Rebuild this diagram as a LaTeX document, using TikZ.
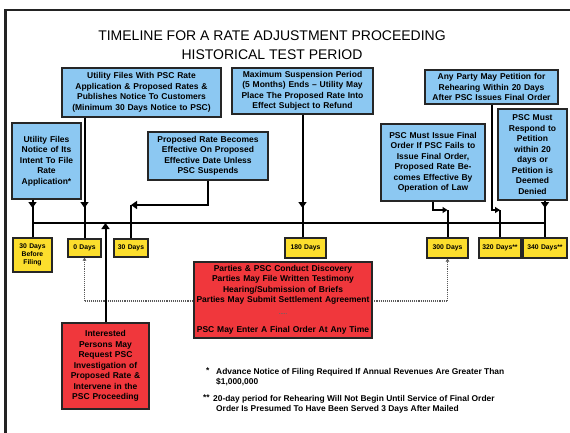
\documentclass[tikz,border=0pt]{standalone}
\usepackage{fontspec}
\setmainfont{Liberation Sans}
\usetikzlibrary{arrows.meta}
\definecolor{boxblue}{RGB}{140,200,242}
\definecolor{boxyellow}{RGB}{252,222,45}
\definecolor{boxred}{RGB}{240,55,60}
\definecolor{framegray}{RGB}{35,35,35}
\tikzset{
  boxbase/.style={draw=black!85, line width=1.3pt, inner xsep=2pt, inner ysep=1pt, align=center},
  bluebox/.style={boxbase, fill=boxblue, font=\fontsize{8.5}{10.5}\selectfont\bfseries},
  yelbox/.style={boxbase, fill=boxyellow, font=\fontsize{6.8}{8.2}\selectfont\bfseries},
  redbox/.style={boxbase, fill=boxred, font=\fontsize{8.5}{10.5}\selectfont\bfseries},
  wire/.style={line width=2pt, black},
  bighead/.style={-{Triangle[width=8pt,length=6pt]}},
  smallhead/.style={-{Triangle[width=6pt,length=5pt]}},
  dothead/.style={-{Triangle[width=3.5pt,length=3pt]}},
  dotline/.style={densely dotted, line width=1.1pt, black!65},
  notefont/.style={font=\fontsize{8.4}{10}\selectfont\bfseries, inner sep=0pt},
}
\begin{document}
\begin{tikzpicture}[x=1pt,y=-1pt]
\useasboundingbox (0,0) rectangle (570,432);
\clip (0,0) rectangle (570,432);
\fill[white] (0,0) rectangle (570,432);
% frame
\draw[line width=2.6pt, framegray] (5.5,440) -- (5.5,10) -- (580,10);

% title
\node (T1) at (272,36) {\fontsize{14}{16}\selectfont TIMELINE FOR A RATE ADJUSTMENT PROCEEDING};
\node (T2) at (272,55) {\fontsize{14}{16}\selectfont HISTORICAL TEST PERIOD};

% helper coordinates
\coordinate (lineY) at (0,223);
\coordinate (tipY) at (0,208);
\coordinate (elbowY) at (0,205);
\coordinate (jogY) at (0,210);
\coordinate (dotY) at (0,301);

% blue boxes
\node[bluebox, text width=155pt, minimum height=49pt] (B1) at (141.5,92.5)
  {Utility Files With PSC Rate\\Application \& Proposed Rates \&\\Publishes Notice To Customers\\(Minimum 30 Days Notice to PSC)};
\node[bluebox, text width=137pt, minimum height=46pt] (B2) at (302.5,91)
  {Maximum Suspension Period\\(5 Months) Ends -- Utility May\\Place The Proposed Rate Into\\Effect Subject to Refund};
\node[bluebox, text width=129pt, minimum height=34pt] (B3) at (491.5,87)
  {Any Party May Petition for\\Rehearing Within 20 Days\\After PSC Issues Final Order};
\node[bluebox, text width=65pt, minimum height=76pt] (B4) at (46.5,161)
  {Utility Files\\Notice of Its\\Intent To File\\Rate\\Application*};
\node[bluebox, text width=116pt, minimum height=48pt] (B5) at (208,156)
  {Proposed Rate Becomes\\Effective On Proposed\\Effective Date Unless\\PSC Suspends};
\node[bluebox, text width=100pt, minimum height=77pt] (B6) at (433,162.5)
  {PSC Must Issue Final\\Order If PSC Fails to\\Issue Final Order,\\Proposed Rate Be-\\comes Effective By\\Operation of Law};
\node[bluebox, text width=65pt, minimum height=91pt] (B7) at (532.5,154.5)
  {PSC Must\\Respond to\\Petition\\within 20\\days or\\Petition is\\Deemed\\Denied};

% yellow boxes
\node[yelbox, text width=35pt, minimum height=34pt] (Y1) at (32.5,255) {30 Days\\Before\\Filing};
\node[yelbox, text width=29pt, minimum height=18pt] (Y2) at (84.5,248) {0 Days};
\node[yelbox, text width=30pt, minimum height=18pt] (Y3) at (131,248) {30 Days};
\node[yelbox, text width=37pt, minimum height=20pt] (Y4) at (305.5,248) {180 Days};
\node[yelbox, text width=37pt, minimum height=20pt] (Y5) at (447.5,248) {300 Days};
\node[yelbox, text width=38pt, minimum height=20pt] (Y6) at (500,248) {320 Days**};
\node[yelbox, text width=40pt, minimum height=20pt] (Y7) at (545,248) {340 Days**};

% red box (left)
\node[redbox, text width=83pt, minimum height=86pt] (R1) at (105.5,366)
  {Interested\\Persons May\\Request PSC\\Investigation of\\Proposed Rate \&\\Intervene in the\\PSC Proceeding};

% dotted connectors
\draw[dotline] (Y2.south |- dotY) -- (Y5.south |- dotY);
\draw[dotline, dothead] (Y2.south |- dotY) -- (Y2.south);
\draw[dotline, dothead] (Y5.south |- dotY) -- (Y5.south);

% red box (centre)
\node[redbox, text width=174pt, minimum height=76pt] (R2) at (283,300)
  {Parties \& PSC Conduct Discovery\\Parties May File Written Testimony\\Hearing/Submission of Briefs\\Parties May Submit Settlement Agreement\\[1pt]
   {\fontsize{6}{7}\selectfont\color{black!60}.....}\\[8pt]
   PSC May Enter A Final Order At Any Time};

% timeline
\draw[wire] (Y1.north |- lineY) -- (Y7.north |- lineY);

% solid connectors
\draw[wire] (Y1.north |- B4.south) -- (Y1.north);
\draw[wire, bighead] (Y1.north |- B4.south) -- (Y1.north |- tipY);

\draw[wire] (Y2.north |- B1.south) -- (Y2.north);
\draw[wire, bighead] (Y2.north |- B1.south) -- (Y2.north |- tipY);

\draw[wire, bighead] (B5.south) |- (Y3.north |- elbowY);
\draw[wire] (Y3.north |- elbowY) -- (Y3.north);

\draw[wire, bighead] (R1.north) -- (R1.north |- lineY);

\draw[wire] (B2.south) -- (B2.south |- Y4.north);
\draw[wire, bighead] (B2.south) -- (B2.south |- tipY);

\draw[wire, smallhead] (B6.south) |- (Y5.north |- jogY);
\draw[wire] (Y5.north |- jogY) -- (Y5.north);

\draw[wire, smallhead] (B3.south) |- (Y6.north |- jogY);
\draw[wire] (Y6.north |- jogY) -- (Y6.north);

\draw[wire] (Y7.north |- B7.south) -- (Y7.north);
\draw[wire, bighead] (Y7.north |- B7.south) -- (Y7.north |- tipY);

% footnotes
\node[notefont, anchor=north west] (F1s) at (206,368) {*};
\node[notefont, anchor=north west, align=left] (F1) at (216,368)
  {Advance Notice of Filing Required If Annual Revenues Are Greater Than\\\$1,000,000};
\node[notefont, anchor=north west] (F2s) at (203,395) {**};
\node[notefont, anchor=north west, align=left] (F2) at (213,395)
  {20-day period for Rehearing Will Not Begin Until Service of Final Order\\\hspace*{3pt}Order Is Presumed To Have Been Served 3 Days After Mailed};
\end{tikzpicture}
\end{document}
